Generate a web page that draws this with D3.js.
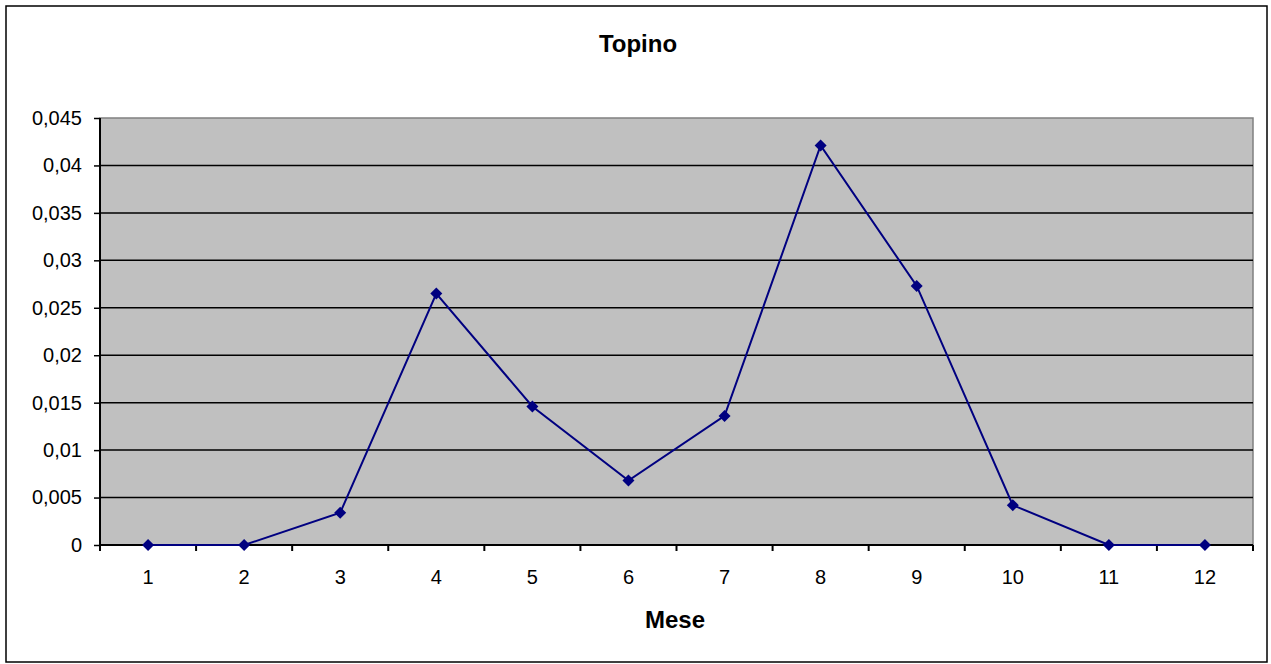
<!DOCTYPE html>
<html><head><meta charset="utf-8">
<script src="https://cdn.jsdelivr.net/npm/d3@7"></script>
<style>body{margin:0;background:#fff}svg{display:block}text{font-family:"Liberation Sans",Arial,sans-serif}</style>
</head><body>
<svg id="c" width="1271" height="664"></svg>
<script>
const months = ["1","2","3","4","5","6","7","8","9","10","11","12"];
const values = [0, 0, 0.0034, 0.0265, 0.0146, 0.0068, 0.0136, 0.0421, 0.0273, 0.0042, 0, 0];
const yTicks = [0,0.005,0.01,0.015,0.02,0.025,0.03,0.035,0.04,0.045];
const title = "Topino";
const xTitle = "Mese";

const svg = d3.select("#c");
const m={l:100,t:118,r:1253,b:545};
svg.append("rect").attr("x",6).attr("y",6).attr("width",1261).attr("height",656)
  .attr("fill","#fff").attr("stroke","#000").attr("stroke-width",1.5);

const x=d3.scaleBand().domain(months).range([m.l,m.r]).padding(0);
const y=d3.scaleLinear().domain([0,0.045]).range([m.b,m.t]);

svg.append("rect").attr("x",m.l).attr("y",m.t).attr("width",m.r-m.l).attr("height",m.b-m.t)
  .attr("fill","#c0c0c0").attr("stroke","#808080").attr("stroke-width",1.5);

svg.append("g").selectAll("line").data(yTicks.filter(d=>d>0 && d<0.045)).join("line")
  .attr("x1",m.l).attr("x2",m.r).attr("y1",d=>y(d)).attr("y2",d=>y(d))
  .attr("stroke","#000").attr("stroke-width",1.5);

const fmt=d=>d===0?"0":String(+d.toFixed(3)).replace(".",",");
const ya=svg.append("g").attr("transform",`translate(${m.l},0)`)
  .call(d3.axisLeft(y).tickValues(yTicks).tickFormat(fmt).tickSize(6).tickPadding(12));
ya.select(".domain").attr("stroke","#000").attr("stroke-width",2).attr("d",`M0,${m.t}V${m.b}`);
ya.selectAll(".tick line").attr("stroke","#000").attr("stroke-width",1.5);
ya.selectAll("text").attr("font-size",20).attr("fill","#000").attr("font-family","Liberation Sans, Arial, sans-serif");

const xg=svg.append("g").attr("transform",`translate(0,${m.b})`);
xg.append("line").attr("x1",m.l).attr("x2",m.r).attr("stroke","#000").attr("stroke-width",2);
const bounds=months.map(d=>x(d)).concat([m.r]);
xg.selectAll("line.t").data(bounds).join("line").attr("class","t")
  .attr("x1",d=>d).attr("x2",d=>d).attr("y1",0).attr("y2",6).attr("stroke","#000").attr("stroke-width",2);
xg.selectAll("text").data(months).join("text")
  .attr("x",d=>x(d)+x.bandwidth()/2).attr("y",39).attr("text-anchor","middle")
  .attr("font-size",20).attr("fill","#000").text(d=>d);

const cx=d=>x(d)+x.bandwidth()/2;
svg.append("path").datum(values)
  .attr("d",d3.line().x((d,i)=>cx(months[i])).y(d=>y(d)))
  .attr("fill","none").attr("stroke","#000080").attr("stroke-width",2);
svg.append("g").selectAll("path").data(values).join("path")
  .attr("transform",(d,i)=>`translate(${cx(months[i])},${y(d)})`)
  .attr("d","M0,-6L6,0L0,6L-6,0Z").attr("fill","#000080");

svg.append("text").attr("x",638).attr("y",52).attr("text-anchor","middle")
  .attr("font-size",24).attr("font-weight","bold").text(title);
svg.append("text").attr("x",675).attr("y",628).attr("text-anchor","middle")
  .attr("font-size",24).attr("font-weight","bold").text(xTitle);
</script>
</body></html>
